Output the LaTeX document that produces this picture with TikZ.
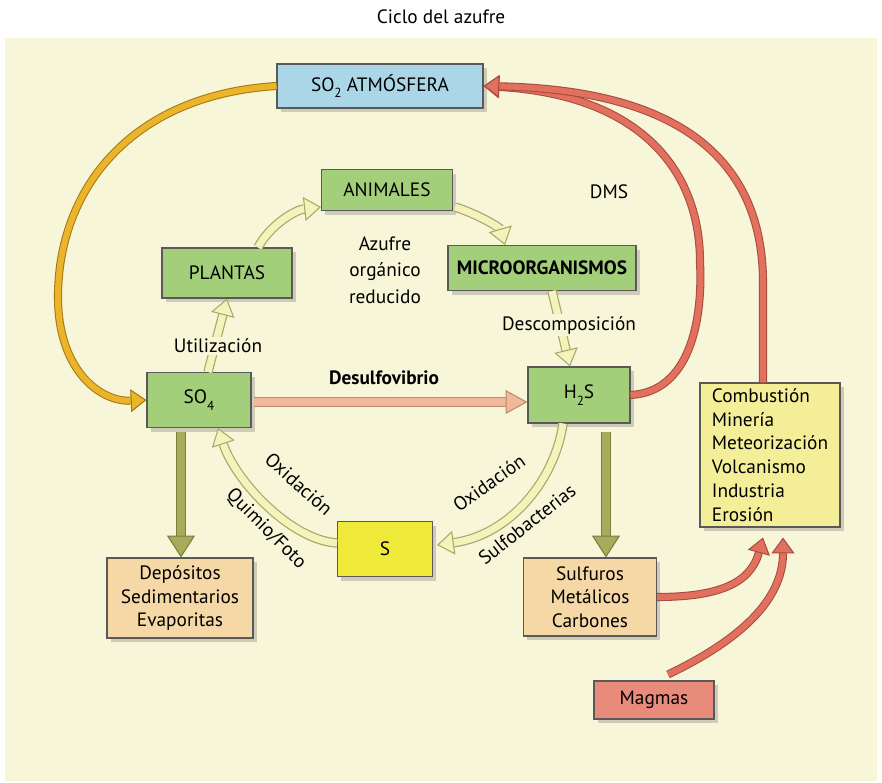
\documentclass[tikz,border=0pt]{standalone}
\usepackage{fontspec}
\setmainfont{PT Sans}
\usetikzlibrary{arrows.meta,positioning,calc,shadows}

\definecolor{bgcream}{HTML}{F8F6D8}
\definecolor{boxgreen}{HTML}{A3CF7A}
\definecolor{boxblue}{HTML}{AAD6E8}
\definecolor{boxsulfur}{HTML}{EFE93A}
\definecolor{boxsource}{HTML}{F5EE98}
\definecolor{boxpeach}{HTML}{F5D8A6}
\definecolor{boxmagma}{HTML}{E98B7B}
\definecolor{redfill}{HTML}{E2705F}
\definecolor{redline}{HTML}{A94C3F}
\definecolor{orangefill}{HTML}{EBB52B}
\definecolor{orangeline}{HTML}{A77A10}
\definecolor{palefill}{HTML}{F4F3BC}
\definecolor{paleline}{HTML}{A9A76A}
\definecolor{olivefill}{HTML}{A9AB5C}
\definecolor{oliveline}{HTML}{7C7E3B}
\definecolor{peachfill}{HTML}{F1B99A}
\definecolor{peachline}{HTML}{B88A70}

\newcommand\quimsub[1]{\raisebox{-.7ex}{\fontsize{7.5}{7.5}\selectfont#1}}

\begin{document}
\begin{tikzpicture}[x=0.02cm, y=-0.02cm,
  font=\fontsize{11}{13.5}\selectfont,
  every node/.style={align=center},
  box/.style={draw=black!65, semithick, inner sep=2pt,
    drop shadow={shadow xshift=2pt, shadow yshift=-2.5pt, opacity=.35}},
  organism/.style={box, fill=boxgreen},
  compound/.style={box, fill=boxgreen},
  atmos/.style={box, fill=boxblue},
  sulfur/.style={box, fill=boxsulfur},
  store/.style={box, fill=boxpeach},
  source/.style={box, fill=boxsource},
  magma/.style={box, fill=boxmagma},
  onarrow/.style={fill=bgcream, inner sep=1pt},
  fat/.style n args={6}{draw=#1, line width=#3,
    -{Triangle[width=#5, length=#6, fill=#1, color=#2, line width=.6pt]},
    preaction={draw=#2, line width=#4, -, shorten >=#6}},
  redarrow/.style={fat={redfill}{redline}{3.4pt}{4.6pt}{13pt}{9pt}},
  orangearrow/.style={fat={orangefill}{orangeline}{3.4pt}{4.6pt}{13pt}{9pt}},
  palearrow/.style={fat={palefill}{paleline}{4pt}{5.4pt}{13.6pt}{9.6pt}},
  olivearrow/.style={fat={olivefill}{oliveline}{4.5pt}{5.8pt}{16pt}{12.5pt}},
  peacharrow/.style={fat={peachfill}{peachline}{4.5pt}{5.8pt}{13.6pt}{12.5pt}}]

  \useasboundingbox (0,0) rectangle (882,782);
  \fill[bgcream] (5,38) rectangle (877,781);

  \node (title) at (441,17) {Ciclo del azufre};

  % Cajas
  \node[atmos, minimum width=4.12cm, minimum height=.88cm] (so2) at (380,86) {SO\quimsub{2} ATMÓSFERA};
  \node[organism, minimum width=2.62cm, minimum height=.82cm] (animales) at (387,190) {ANIMALES};
  \node[organism, minimum width=2.6cm, minimum height=1cm] (plantas) at (227,273) {PLANTAS};
  \node[organism, minimum width=3.76cm, minimum height=.9cm] (micro) at (542,268) {\textbf{MICROORGANISMOS}};
  \node[compound, minimum width=2.08cm, minimum height=1.1cm] (so4) at (199,400) {SO\quimsub{4}};
  \node[compound, minimum width=2.04cm, minimum height=1.12cm] (h2s) at (579,395) {H\quimsub{2}S};
  \node[sulfur, minimum width=1.9cm, minimum height=1.1cm] (azufre) at (385,549) {S};
  \node[store, minimum width=2.92cm, minimum height=1.6cm] (depositos) at (180,598) {Depósitos\\Sedimentarios\\Evaporitas};
  \node[store, minimum width=2.66cm, minimum height=1.56cm] (sulfuros) at (590,597) {Sulfuros\\Metálicos\\Carbones};
  \node[source, minimum width=2.8cm, minimum height=2.88cm, align=left] (fuentes) at (770,455)
    {Combustión\\Minería\\Meteorización\\Volcanismo\\Industria\\Erosión};
  \node[magma, minimum width=2.4cm, minimum height=.76cm] (magmas) at (654,700) {Magmas};

  % Textos
  \node[font=\fontsize{11}{15}\selectfont] (organico) at (385,270) {Azufre\\orgánico\\reducido};
  \node (dms) at (609,192) {DMS};
  \node (desulfo) at (384,378) {\textbf{Desulfovibrio}};
  \node[rotate=-42] (oxiizq) at (299,484) {Oxidación};
  \node[rotate=-45] (quimio) at (266,529) {Quimio/Foto};
  \node[rotate=35] (oxider) at (489,483) {Oxidación};
  \node[rotate=38] (sulfobac) at (527,524) {Sulfobacterias};

  % Flechas hacia la atmosfera
  \draw[orangearrow] (so2.west) .. controls (130,95) and (58,190) .. (58,297)
    .. controls (58,370) and (100,402) .. (so4.west);
  \draw[redarrow] (h2s.east) .. controls (690,392) and (703,320) .. (700,262)
    .. controls (700,170) and (640,95) .. (so2.east);
  \draw[redarrow] ($(fuentes.north)+(-7,0)$) -- (763,283)
    .. controls (763,160) and (680,90) .. (so2.east);
  \draw[redarrow] (sulfuros.east) .. controls (715,597) and (750,585) .. ($(fuentes.south)+(-7,10)$);
  \draw[redarrow] ($(magmas.north)+(14,-6)$) .. controls (740,640) and (783,600) .. ($(fuentes.south)+(13,10)$);

  % Azufre organico
  \draw[palearrow] ($(so4.north)+(9,0)$) -- (plantas.south);
  \draw[palearrow] ($(plantas.north)+(31,0)$) .. controls (270,225) and (295,210) .. ($(animales.south west)+(0,-4)$);
  \draw[palearrow] ($(animales.south east)+(2,-4)$) .. controls (480,215) and (500,228) .. ($(micro.north)+(-37,0)$);
  \draw[palearrow] ($(micro.south)+(10,0)$) -- ($(h2s.north)+(-9,0)$);

  % Oxidacion
  \draw[palearrow] ($(azufre.west)+(0,-6)$) .. controls (290,540) and (235,480) .. ($(so4.south)+(19,0)$);
  \draw[palearrow] ($(h2s.south)+(-16,0)$) .. controls (555,480) and (510,535) .. ($(azufre.east)+(4,-4)$);

  % Sedimentos
  \draw[olivearrow] ($(so4.south)+(-18,4)$) -- ($(depositos.north)+(1,0)$);
  \draw[olivearrow] ($(h2s.south)+(27,8)$) -- ($(sulfuros.north)+(16,0)$);
  \draw[peacharrow] ($(so4.east)+(2,2)$) -- ($(h2s.west)+(0,7)$);

  \node[onarrow] (utiliza) at (218,346) {Utilización};
  \node[onarrow] (descomp) at (569,325) {Descomposición};

\end{tikzpicture}
\end{document}
